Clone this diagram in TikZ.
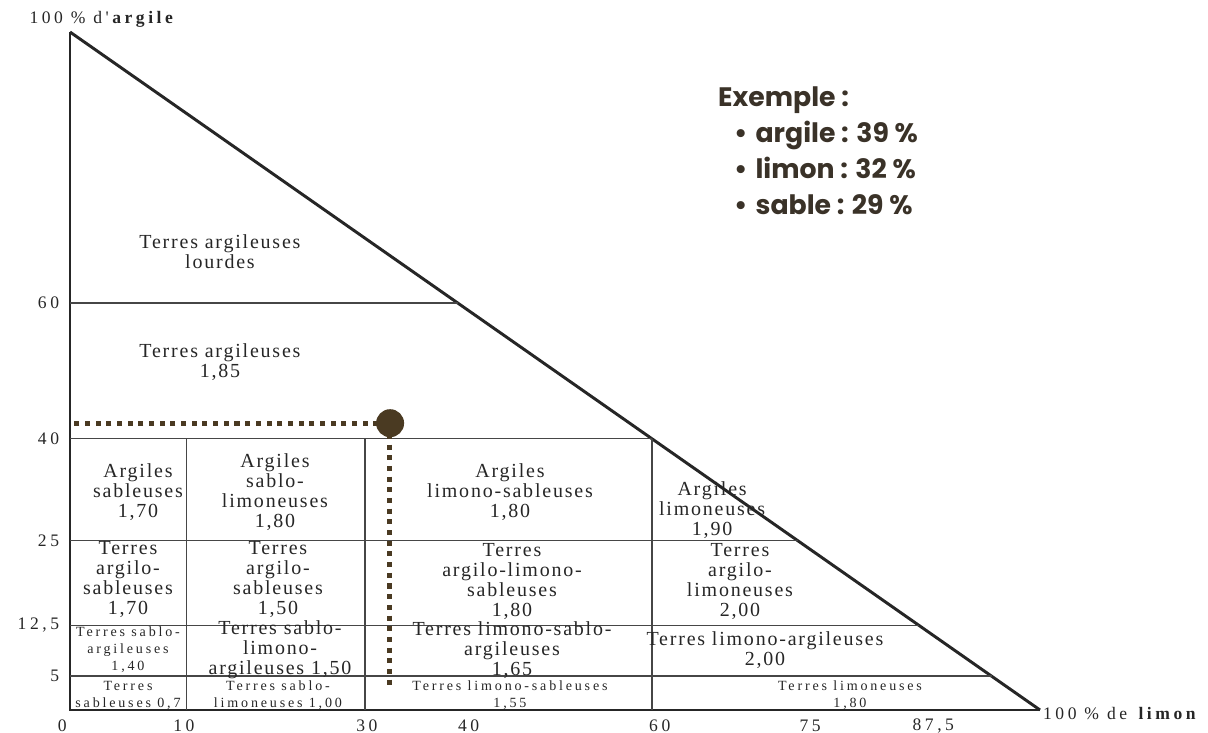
\documentclass[tikz,border=0pt]{standalone}
\usepackage{fontspec}
\setmainfont{Liberation Serif}
\newfontfamily\regfont{Liberation Serif}[LetterSpace=9]
\newfontfamily\smfont{Liberation Serif}[LetterSpace=20]
\newfontfamily\exfont{Poppins}
\usepackage{tikz}
\usetikzlibrary{positioning}
\definecolor{DotBrown}{RGB}{74, 58, 34}
\definecolor{ExText}{RGB}{58, 50, 40}
\definecolor{GridGray}{RGB}{70, 70, 70}

\begin{document}
\begin{tikzpicture}[x=0.2425cm, y=0.1695cm,
  zone/.style={font=\regfont\fontsize{14.2}{14.2}\selectfont, align=center, inner sep=0pt, text=black!85},
  petite/.style={zone, font=\smfont\fontsize{10}{12}\selectfont}, grad/.style={font=\smfont\fontsize{12.5}{14}\selectfont, inner sep=0pt, text=black!85},
  bord/.style={line width=2.1pt, black!85}, limite/.style={line width=1pt, GridGray}, repere/.style={DotBrown, line width=3.6pt, dash pattern=on 3.6pt off 4pt}]
\useasboundingbox (-7.216,-3.392) rectangle (117.32,104.72);
\coordinate (O) at (0,0); \coordinate (A) at (0,100); \coordinate (L) at (100,0);
\draw[bord] (A) -- (O) -- (L); \draw[bord] (A) -- (L);
\foreach \a in {60,40,25,12.5,5} \draw[limite] (0,\a) -- ({100-\a},\a);
\foreach \l in {12,30.4,60} \draw[limite] (\l,0) -- (\l,40);
% graduations
\foreach \a/\t [count=\i] in {60/60,40/40,25/25,12.5/{12,5},5/5} \node[grad, anchor=east] (ya\i) at (-1.1,\a) {\t};
\foreach \l/\t [count=\i] in {-0.8/0,11.75/10,30.6/30,41.1/40,60.8/60,76.3/75,89/{87,5}} \node[grad] (xl\i) at (\l,-2.3) {\t};
\node[grad] (arg) at (3.4,101.8) {100 \% d'\textbf{argile}};
\node[grad, anchor=west] (lim) at (100.3,-0.5) {100 \% de \textbf{limon}};
% zones
\node[zone] (r1) at (15.46,67.55) {Terres argileuses\\lourdes};
\node[zone] (r2) at (15.46,51.33) {Terres argileuses\\1,85};
\node[zone] (r3) at (7.01,32.15) {Argiles\\sableuses\\1,70};
\node[zone] (r4) at (21.13,32.15) {Argiles\\sablo-\\limoneuses\\1,80};
\node[zone] (r5) at (45.36,32.15) {Argiles\\limono-sableuses\\1,80};
\node[zone] (r6) at (66.2,29.5) {Argiles\\limoneuses\\1,90};
\node[zone] (r7) at (5.98,19.3) {Terres\\argilo-\\sableuses\\1,70};
\node[zone] (r8) at (21.44,19.3) {Terres\\argilo-\\sableuses\\1,50};
\node[zone] (r9) at (45.57,19.0) {Terres\\argilo-limono-\\sableuses\\1,80};
\node[zone] (r10) at (69.07,19.0) {Terres\\argilo-\\limoneuses\\2,00};
\node[petite] (r11) at (5.98,8.85) {Terres sablo-\\argileuses\\1,40};
\node[zone] (r12) at (21.65,8.85) {Terres sablo-\\limono-\\argileuses 1,50};
\node[zone] (r13) at (45.57,8.85) {Terres limono-sablo-\\argileuses\\1,65};
\node[zone] (r14) at (71.65,8.85) {Terres limono-argileuses\\2,00};
\node[petite] (r15) at (5.98,2.2) {Terres\\sableuses 0,7};
\node[petite] (r16) at (21.44,2.2) {Terres sablo-\\limoneuses 1,00};
\node[petite] (r17) at (45.36,2.2) {Terres limono-sableuses\\1,55};
\node[petite] (r18) at (80.41,2.2) {Terres limoneuses\\1,80};
% exemple
\coordinate (pa) at (0,42.3); \coordinate (pl) at (32.9,3);
\draw[repere] (32.9,42.3) -- (pa); \draw[repere] (32.9,42.3) -- (pl);
\node[circle, fill=DotBrown, minimum size=0.7cm, inner sep=0pt] (pt) at (33,42.3) {};
\node[anchor=north west, align=left, inner sep=0pt, text=ExText, font=\exfont\bfseries\fontsize{19}{25.6}\selectfont] (ex) at (66.8,92.0)
  {Exemple :\\\hspace*{0.4cm}•\hspace{0.2cm}argile : 39 \%\\\hspace*{0.4cm}•\hspace{0.2cm}limon : 32 \%\\\hspace*{0.4cm}•\hspace{0.2cm}sable : 29 \%};
\end{tikzpicture}
\end{document}
